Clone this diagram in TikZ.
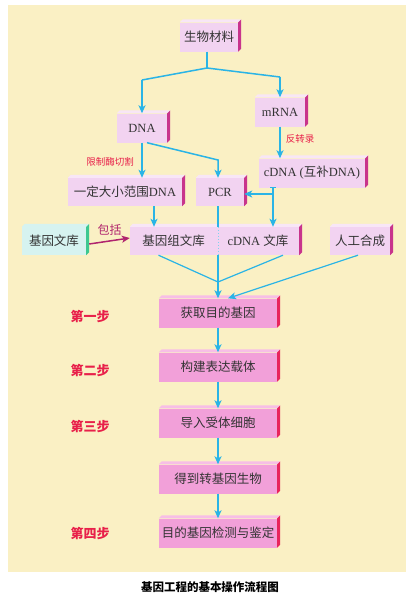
\documentclass[tikz,border=0pt]{standalone}
\usepackage{fontspec}
\setmainfont{Liberation Serif}
\newfontfamily\zh{Noto Sans CJK SC}
\usetikzlibrary{arrows.meta}
\definecolor{bg}{HTML}{FAF0C4}
\definecolor{upfill}{HTML}{F2D3F1}
\definecolor{upside}{HTML}{C8348C}
\definecolor{uptop}{HTML}{F8E6F6}
\definecolor{lowfill}{HTML}{F2A0D9}
\definecolor{lowside}{HTML}{E8245C}
\definecolor{lowtop}{HTML}{F7BEE6}
\definecolor{cyfill}{HTML}{D6F3F0}
\definecolor{cyside}{HTML}{3CC890}
\definecolor{arrc}{HTML}{2AB4E6}
\definecolor{redl}{HTML}{E8204A}
\definecolor{magl}{HTML}{B0246E}
\definecolor{txt}{HTML}{333333}
\newcommand\prism[3]{%
  \fill[#3] (#1.north west) -- (#1.north east) -- ([shift={(3,-3)}]#1.north east) -- ([shift={(3,-3)}]#1.north west) -- cycle;
  \fill[#2] (#1.north east) -- (#1.south east) -- ([shift={(3,-3)}]#1.south east) -- ([shift={(3,-3)}]#1.north east) -- cycle;}
\begin{document}
\begin{tikzpicture}[x=1pt,y=-1pt,
  box/.style={fill=upfill, minimum height=29pt, inner sep=0pt, text=txt, font=\fontsize{12.5}{12.5}\selectfont},
  lbox/.style={box, fill=lowfill},
  ln/.style={draw=arrc, line width=1.5pt},
  arr/.style={ln, -{Stealth[length=8pt,width=7pt,inset=2pt]}},
  steplab/.style={text=redl, font=\zh\bfseries\fontsize{13}{13}\selectfont},
  redlab/.style={text=redl, font=\zh\fontsize{9.5}{9.5}\selectfont}]
\useasboundingbox (0,0) rectangle (414,598);
\fill[bg] (8,5) rectangle (406,572);
% nodes
\node[box, minimum width=58pt] (mat) at (209,37) {\zh 生物材料};
\node[box, minimum width=50pt] (dna) at (142,128) {DNA};
\node[box, minimum width=50pt] (mrna) at (280,112) {mRNA};
\node[box, minimum width=106pt] (cdna) at (312,173) {cDNA ({\zh 互补}DNA)};
\node[box, minimum width=114pt, minimum height=28pt] (frag) at (125,192) {{\zh 一定大小范围}DNA};
\node[box, minimum width=48pt, minimum height=28pt] (pcr) at (220,192) {PCR};
\node[box, fill=cyfill, minimum width=64pt, minimum height=28pt] (gl) at (54,241) {\zh 基因文库};
\node[box, minimum width=87pt, minimum height=28pt] (glib) at (173.5,241) {\zh 基因组文库};
\node[box, minimum width=82pt, minimum height=28pt] (clib) at (258,241) {cDNA {\zh 文库}};
\node[box, minimum width=60pt, minimum height=28pt] (syn) at (360,241) {\zh 人工合成};
\node[lbox, minimum width=118pt] (s1) at (218,313) {\zh 获取目的基因};
\node[lbox, minimum width=118pt] (s2) at (218,367) {\zh 构建表达载体};
\node[lbox, minimum width=118pt] (s3) at (218,423) {\zh 导入受体细胞};
\node[lbox, minimum width=118pt] (s4) at (218,479) {\zh 得到转基因生物};
\node[lbox, minimum width=118pt] (s5) at (218,533) {\zh 目的基因检测与鉴定};
% prisms
\prism{mat}{upside}{uptop}
\prism{dna}{upside}{uptop}
\prism{mrna}{upside}{uptop}
\prism{cdna}{upside}{uptop}
\prism{frag}{upside}{uptop}
\prism{pcr}{upside}{uptop}
\prism{gl}{cyside}{cyfill}
\prism{clib}{upside}{uptop}
\fill[uptop] (glib.north west) -- (glib.north east) -- ([shift={(3,-3)}]glib.north east) -- ([shift={(3,-3)}]glib.north west) -- cycle;
\prism{syn}{upside}{uptop}
\prism{s1}{lowside}{lowtop}
\prism{s2}{lowside}{lowtop}
\prism{s3}{lowside}{lowtop}
\prism{s4}{lowside}{lowtop}
\prism{s5}{lowside}{lowtop}
% step labels
\node[steplab] (l1) at (90,316) {第一步};
\node[steplab] (l2) at (90,370) {第二步};
\node[steplab] (l3) at (90,426) {第三步};
\node[steplab] (l4) at (90,533) {第四步};
\node[redlab] (rz) at (110,162) {限制酶切割};
\node[redlab] (fz) at (300,139) {反转录};
% connectors
\coordinate (sp) at (207,68);
\coordinate (spl) at (142,80);
\coordinate (spr) at (280,77);
\draw[ln] (mat.south -| sp) -- (sp);
\draw[ln] (sp) -- (spl);
\draw[ln] (sp) -- (spr);
\draw[arr] (spl) -- (dna.north);
\draw[arr] (spr) -- (mrna.north);
\draw[arr] (dna.south) -- (dna.south |- frag.north);
\coordinate (bd) at (218,160);
\draw[arr] ([xshift=5pt]dna.south) -- (bd) -- (bd |- pcr.north);
\draw[arr] (mrna.south) -- (mrna.south |- cdna.north);
\coordinate (ct) at (273,194);
\draw[arr] (cdna.south -| ct) -- (ct |- clib.north);
\draw[arr] (ct) -- (pcr.east |- ct);
\draw[ln] ([xshift=-3pt]cdna.south -| ct) -- ([xshift=3pt]cdna.south -| ct);
\draw[arr] (frag.south -| 154,0) -- (glib.north -| 154,0);
\draw[draw=magl, line width=1.5pt, -{Stealth[length=8pt,width=7pt,inset=2pt]}] ([shift={(3,3)}]gl.east) -- ([yshift=3pt]glib.west) node[midway, above=1pt, text=magl, font=\zh\fontsize{12}{12}\selectfont] {包括};
\coordinate (m) at (218,282);
\draw[ln, line width=1.2pt] ([xshift=-15pt]glib.south) -- (m);
\draw[ln, line width=1.2pt] ([xshift=25pt]clib.south) -- (m);
\draw[ln] (pcr.south -| m) -- (glib.north -| m);
\draw[draw=arrc!60, line width=1pt, dotted] (glib.north -| m) -- (glib.south -| m);
\draw[arr] (glib.south -| m) -- (s1.north -| m);
\draw[arr, line width=1.2pt] ([xshift=-2pt]syn.south) -- ([xshift=10pt]s1.north);
\draw[arr] (s1) -- (s2);
\draw[arr] (s2) -- (s3);
\draw[arr] (s3) -- (s4);
\draw[arr] (s4) -- (s5);
% caption
\node[text=black, font=\zh\bfseries\fontsize{11.5}{11.5}\selectfont] (cap) at (210,587) {基因工程的基本操作流程图};
\end{tikzpicture}
\end{document}
